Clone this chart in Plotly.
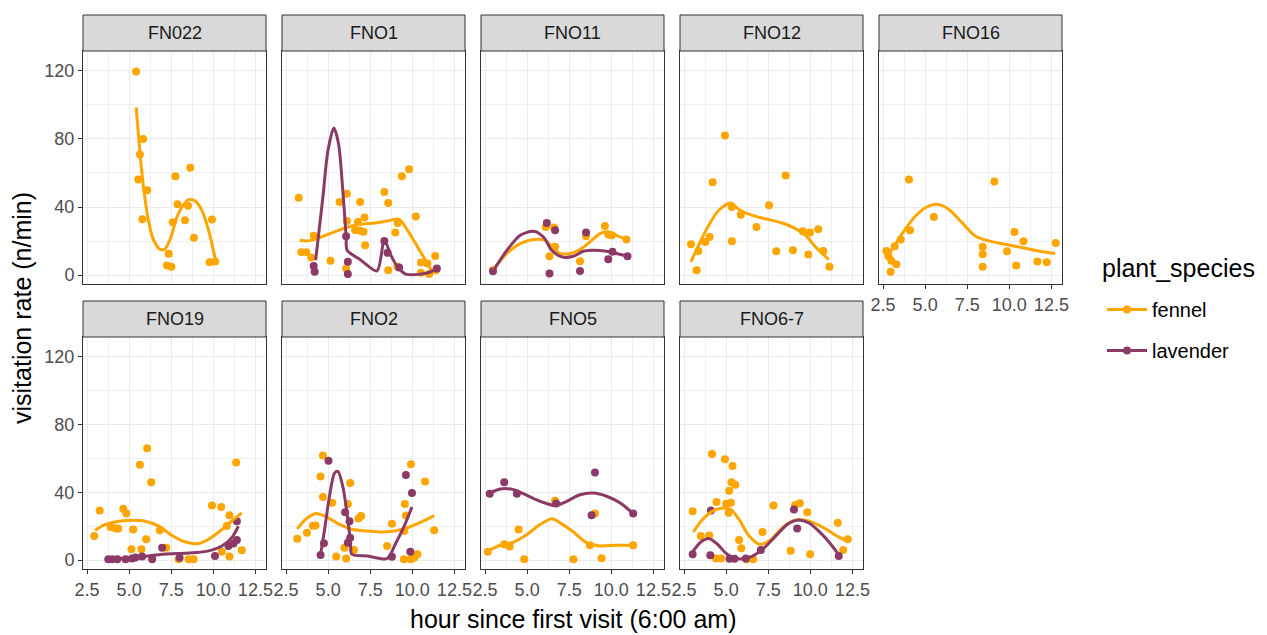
import plotly.graph_objects as go

# ---------------- data ----------------
panel_names = ["FN022", "FNO1", "FNO11", "FNO12", "FNO16", "FNO19", "FNO2", "FNO5", "FNO6-7"]
species = ["fennel", "lavender"]
x_tick_vals = [2.5, 5.0, 7.5, 10.0, 12.5]
x_tick_text = ["2.5", "5.0", "7.5", "10.0", "12.5"]
y_tick_vals = [0, 40, 80, 120]
y_tick_text = ["0", "40", "80", "120"]

# FN022
fn022_fennel_px = [5.42, 5.83, 5.64, 5.54, 6.07, 5.79, 8.63, 7.75, 7.88, 8.50, 8.32, 7.59, 9.92, 8.85, 7.35, 7.25, 7.51, 9.78, 10.11]
fn022_fennel_py = [119.6, 80, 70.8, 56.2, 49.8, 32.8, 63, 58.1, 41.6, 40.8, 32.2, 31, 32.6, 21.9, 12.5, 5.7, 4.9, 7.6, 8.0]
fn022_fennel_sx = [5.42, 5.68, 5.87, 6.17, 6.46, 6.86, 7.15, 7.45, 7.84, 8.14, 8.53, 8.93, 9.32, 9.72, 10.11]
fn022_fennel_sy = [98.5, 67.9, 50.3, 30.8, 20.5, 15, 15.6, 21.5, 34.1, 40, 44.3, 43.5, 38, 26.3, 9.8]

# FNO1
fno1_fennel_px = [3.25, 5.68, 6.11, 6.90, 8.34, 8.57, 9.38, 9.81, 10.21, 7.16, 6.11, 6.77, 6.60, 6.90, 7.10, 9.13, 8.99, 7.20, 4.14, 3.41, 3.70, 4.00, 5.14, 6.07, 8.57, 9.12, 10.51, 10.90, 11.36, 10.51, 11.00, 11.40]
fno1_fennel_py = [45.5, 42.9, 47.8, 42.9, 48.8, 42.3, 58, 62.2, 34.5, 33.8, 31.8, 31.2, 26.5, 26, 25.5, 30.6, 25, 17.6, 23.2, 13.5, 13.5, 10.3, 8.4, 3.9, 2.9, 4.9, 7.4, 6.8, 11.3, 1.4, 0.6, 2.9]
fno1_fennel_sx = [3.31, 3.80, 4.59, 5.38, 6.17, 6.95, 7.75, 8.53, 9.22, 9.72, 10.31, 10.90, 11.20]
fno1_fennel_sy = [20.5, 20.1, 22.4, 25.4, 28.3, 29.9, 30.6, 31.8, 32.8, 26.3, 16.6, 6.8, 1.4]
fno1_lavender_px = [4.14, 4.20, 6.07, 6.17, 6.17, 8.34, 8.53, 9.22, 11.46]
fno1_lavender_py = [5.3, 2.0, 22.8, 7.8, 0.6, 20.1, 13.1, 4.5, 3.9]
fno1_lavender_sx = [4.26, 4.69, 4.99, 5.34, 5.62, 5.87, 6.07, 6.13, 6.95, 7.90, 8.34, 8.73, 9.12, 9.61, 10.51, 11.10, 11.46]
fno1_lavender_sy = [8.8, 45.9, 73.2, 86.4, 77, 49.8, 22.4, 14.6, 8.8, 2.5, 20.5, 11.7, 4.9, 0.6, 0.6, 2.0, 3.9]

# FNO11
fno11_fennel_px = [2.97, 6.11, 6.60, 6.33, 8.14, 8.50, 9.62, 9.82, 10.02, 10.90, 6.66]
fno11_fennel_py = [2.9, 28.3, 27.9, 11.1, 8.2, 22.8, 28.9, 23.8, 23.4, 20.9, 16.6]
fno11_fennel_sx = [2.97, 3.80, 4.59, 5.38, 6.07, 6.46, 6.96, 7.55, 8.14, 8.73, 9.32, 9.82, 10.31, 10.90]
fno11_fennel_sy = [2.9, 12.7, 18.5, 20.9, 20.5, 16.6, 12.7, 12.7, 15, 19.5, 24.4, 25.4, 23.4, 20.9]
fno11_lavender_px = [2.97, 6.17, 6.66, 6.33, 8.14, 8.50, 10.07, 9.82, 10.96]
fno11_lavender_py = [2.3, 30.6, 26.3, 1.0, 2.5, 25, 13.7, 9.4, 11.1]
fno11_lavender_sx = [2.97, 3.80, 4.59, 5.38, 5.97, 6.46, 7.06, 7.75, 8.34, 8.93, 9.72, 10.31, 10.96]
fno11_lavender_sy = [2.3, 14.6, 23.4, 25.8, 22.4, 14.6, 10.7, 11.1, 14, 14.6, 14, 12.7, 11.1]

# FNO12
fno12_fennel_px = [4.93, 4.20, 8.54, 7.55, 5.34, 5.87, 6.80, 2.91, 3.35, 3.76, 4.02, 5.34, 7.98, 8.97, 9.56, 9.98, 10.47, 9.88, 10.77, 11.14, 3.25]
fno12_fennel_py = [82, 54.6, 58.5, 41, 40, 35.5, 28.3, 18.1, 14.2, 19.5, 22.4, 19.9, 14, 14.6, 25.8, 25, 26.9, 12.1, 14.2, 4.9, 2.9]
fno12_fennel_sx = [2.91, 3.41, 4.00, 4.59, 5.28, 5.78, 6.56, 7.55, 8.34, 9.12, 9.72, 10.31, 11.10]
fno12_fennel_sy = [7.8, 18.5, 29.9, 38.4, 42.3, 38.4, 35.1, 32.6, 30.6, 27.3, 23.4, 16.6, 9.2]

# FNO16
fno16_fennel_px = [4.04, 9.11, 5.52, 4.10, 3.55, 3.19, 2.70, 2.82, 2.99, 3.29, 2.95, 8.42, 8.42, 8.42, 9.86, 10.31, 10.84, 10.41, 11.67, 12.22, 12.76]
fno16_fennel_py = [56.2, 55, 34.1, 26.3, 20.9, 17, 14.2, 11.1, 8.4, 6.4, 2, 16.6, 12.3, 4.9, 14, 25.4, 19.9, 5.7, 8, 7.6, 18.9]
fno16_fennel_sx = [2.70, 3.25, 3.84, 4.43, 5.02, 5.71, 6.41, 7.19, 7.98, 8.77, 9.76, 10.74, 11.73, 12.72]
fno16_fennel_sy = [9.8, 18.5, 27.3, 34.7, 39.6, 41.6, 38.6, 30.8, 23, 20.1, 18.1, 16.2, 14.2, 12.7]

# FNO19
fno19_fennel_px = [6.07, 5.64, 11.36, 6.31, 3.25, 4.65, 4.83, 9.92, 10.47, 10.96, 10.80, 2.93, 3.90, 4.20, 4.35, 5.24, 6.82, 6.01, 5.14, 5.73, 7.21, 7.94, 8.53, 8.83, 10.51, 10.96, 11.69]
fno19_fennel_py = [66, 56.2, 57.6, 45.9, 29.3, 30.4, 27.5, 32.2, 31.4, 26.5, 20.1, 14.2, 19.5, 18.7, 18.7, 18.1, 17.6, 12.3, 6.4, 6.4, 7.4, 0.6, 0.6, 0.6, 4.9, 2.1, 5.9]
fno19_fennel_sx = [2.97, 3.60, 4.39, 5.18, 5.97, 6.76, 7.55, 8.34, 9.13, 9.72, 10.51, 11.20, 11.69]
fno19_fennel_sy = [17.6, 21.1, 23, 23.6, 23, 20.1, 14.6, 10.7, 9.8, 12.3, 18.1, 24, 27.9]
fno19_lavender_px = [3.76, 4.00, 4.30, 4.79, 5.18, 5.38, 5.77, 6.37, 6.96, 11.40, 11.40, 10.90, 11.20, 10.10, 8.00]
fno19_lavender_py = [0.6, 0.6, 0.6, 0.6, 1, 1.6, 2.1, 0.6, 7.4, 11.9, 23, 8.4, 9.8, 2.5, 1.5]
fno19_lavender_sx = [3.76, 4.59, 5.38, 6.17, 6.96, 7.94, 8.93, 9.72, 10.51, 11.10, 11.49]
fno19_lavender_sy = [0.6, 1, 1.6, 2.5, 3.5, 3.9, 4.5, 5.5, 8.4, 13.3, 20]

# FNO2
fno2_fennel_px = [4.69, 4.55, 6.31, 5.24, 4.69, 6.17, 9.92, 10.76, 9.56, 9.62, 6.96, 6.80, 8.79, 9.52, 11.30, 3.17, 3.74, 4.10, 4.25, 8.50, 5.97, 6.53, 5.48, 6.07, 9.50, 9.90, 10.10, 10.30]
fno2_fennel_py = [61.7, 49.4, 45.5, 33.8, 37.3, 33.2, 56.6, 46.4, 33.2, 26.3, 26, 24.6, 21.5, 17.2, 17.6, 12.7, 16.2, 20.3, 20.5, 8.4, 7.4, 6, 2.1, 1, 0.6, 0.6, 1.5, 3.5]
fno2_fennel_sx = [3.17, 3.70, 4.30, 4.89, 5.68, 6.46, 7.35, 8.14, 8.93, 9.72, 10.51, 11.30]
fno2_fennel_sy = [18.5, 24.4, 27.5, 25.6, 21.1, 18.1, 17.2, 16.6, 17.2, 19.1, 22.4, 26.3]
fno2_lavender_px = [5.02, 9.62, 9.98, 6.01, 6.27, 6.31, 6.17, 4.75, 4.55, 8.79, 9.88]
fno2_lavender_py = [58.7, 50.3, 39.6, 28.3, 23, 13.3, 10.3, 10, 3.1, 2, 4.9]
fno2_lavender_sx = [4.55, 4.79, 5.08, 5.38, 5.58, 5.87, 6.17, 6.33, 6.41, 7.35, 8.50, 9.03, 9.52, 9.98]
fno2_lavender_sy = [3.1, 18.1, 37.7, 51.3, 52.3, 43.5, 24, 10.3, 3.5, 2.5, 1.0, 10.3, 20.1, 31.4]

# FNO5
fno5_fennel_px = [2.66, 3.64, 3.96, 4.49, 4.83, 6.66, 7.75, 9.03, 8.73, 9.42, 11.30]
fno5_fennel_py = [4.9, 9.4, 8, 18.1, 0.6, 35.1, 0.6, 27.5, 8.8, 1.2, 8.8]
fno5_fennel_sx = [2.66, 3.41, 4.20, 4.99, 5.78, 6.47, 6.96, 7.75, 8.53, 9.32, 10.31, 11.30]
fno5_fennel_sy = [5.5, 8.8, 10.7, 15.2, 21.1, 24.4, 22, 16.6, 10.3, 8.4, 8.8, 8.8]
fno5_lavender_px = [2.78, 3.64, 4.39, 6.72, 9.03, 8.83, 11.30]
fno5_lavender_py = [39.2, 45.9, 39.2, 33.4, 51.7, 26.5, 27.5]
fno5_lavender_sx = [2.78, 3.41, 4.20, 4.99, 5.78, 6.66, 7.35, 8.14, 8.93, 9.72, 10.51, 11.30]
fno5_lavender_sy = [39.6, 42, 41.6, 38.2, 34.7, 32.2, 34.7, 38.6, 39.6, 37.7, 33.8, 27.5]

# FNO6-7
fno67_fennel_px = [4.16, 4.93, 5.38, 5.32, 5.54, 5.18, 4.43, 5.00, 5.28, 5.14, 3.01, 7.81, 9.10, 9.38, 9.82, 11.63, 7.16, 3.50, 4.00, 5.77, 5.90, 12.22, 11.95, 8.83, 9.99, 4.40, 4.70, 6.20, 6.60]
fno67_fennel_py = [62.6, 59.5, 55.6, 45.9, 44.5, 41, 34.3, 33.3, 33.8, 27.9, 28.9, 32.2, 32.5, 33.6, 28.3, 22, 16.6, 14.2, 14.6, 11.9, 7, 12.3, 6, 5.5, 3.5, 1, 1, 0.6, 0.6]
fno67_fennel_sx = [3.05, 3.60, 4.20, 4.79, 5.28, 5.77, 6.37, 6.96, 7.55, 8.14, 8.73, 9.32, 10.10, 10.90, 11.59, 12.18]
fno67_fennel_sy = [16.6, 24, 28.9, 30.8, 29.9, 24, 14.2, 9.4, 11.3, 17.2, 22, 24, 22.4, 18.5, 14.2, 11.3]
fno67_lavender_px = [4.10, 9.03, 9.22, 3.01, 4.06, 5.20, 5.50, 6.17, 7.06, 11.69]
fno67_lavender_py = [29.3, 29.9, 18.7, 3.5, 2.9, 0.8, 0.8, 1, 6, 2.5]
fno67_lavender_sx = [3.01, 3.50, 4.00, 4.49, 4.99, 5.58, 6.37, 7.16, 7.94, 8.63, 9.22, 9.91, 10.70, 11.30, 11.75]
fno67_lavender_sy = [4.9, 10.7, 12.7, 9.4, 4.1, 1, 1.6, 6.4, 14.2, 21.1, 23.6, 22, 15.2, 8.4, 2.5]

# ---------------- assemble ----------------
panel_series = [
    {"fennel": (fn022_fennel_px, fn022_fennel_py, fn022_fennel_sx, fn022_fennel_sy)},
    {"fennel": (fno1_fennel_px, fno1_fennel_py, fno1_fennel_sx, fno1_fennel_sy),
     "lavender": (fno1_lavender_px, fno1_lavender_py, fno1_lavender_sx, fno1_lavender_sy)},
    {"fennel": (fno11_fennel_px, fno11_fennel_py, fno11_fennel_sx, fno11_fennel_sy),
     "lavender": (fno11_lavender_px, fno11_lavender_py, fno11_lavender_sx, fno11_lavender_sy)},
    {"fennel": (fno12_fennel_px, fno12_fennel_py, fno12_fennel_sx, fno12_fennel_sy)},
    {"fennel": (fno16_fennel_px, fno16_fennel_py, fno16_fennel_sx, fno16_fennel_sy)},
    {"fennel": (fno19_fennel_px, fno19_fennel_py, fno19_fennel_sx, fno19_fennel_sy),
     "lavender": (fno19_lavender_px, fno19_lavender_py, fno19_lavender_sx, fno19_lavender_sy)},
    {"fennel": (fno2_fennel_px, fno2_fennel_py, fno2_fennel_sx, fno2_fennel_sy),
     "lavender": (fno2_lavender_px, fno2_lavender_py, fno2_lavender_sx, fno2_lavender_sy)},
    {"fennel": (fno5_fennel_px, fno5_fennel_py, fno5_fennel_sx, fno5_fennel_sy),
     "lavender": (fno5_lavender_px, fno5_lavender_py, fno5_lavender_sx, fno5_lavender_sy)},
    {"fennel": (fno67_fennel_px, fno67_fennel_py, fno67_fennel_sx, fno67_fennel_sy),
     "lavender": (fno67_lavender_px, fno67_lavender_py, fno67_lavender_sx, fno67_lavender_sy)},
]

COLORS = {"fennel": "#FFA500", "lavender": "#8B3A66"}
FONT = "Liberation Sans, Arial, sans-serif"
W, H = 1267, 635
PANEL_W = 183
PANEL_LEFTS = [83 + 199 * c for c in range(5)]
ROW_PANEL = [(51, 284), (337, 569)]   # top, bottom pixel of plotting area
ROW_STRIP = [(15, 51), (301, 337)]
X_RANGE = [2.26, 13.13]
Y_RANGE = [-5.2, 131.6]
TICK_FONT = dict(family=FONT, size=18, color="#4D4D4D")

fig = go.Figure()
layout_axes = {}
shapes = []
annotations = []

for k, name in enumerate(panel_names):
    row, col = divmod(k, 5)
    sfx = "" if k == 0 else str(k + 1)
    xa, ya = "x" + sfx, "y" + sfx
    left = PANEL_LEFTS[col]
    top, bot = ROW_PANEL[row]
    xdom = [left / W, (left + PANEL_W) / W]
    ydom = [1 - bot / H, 1 - top / H]
    show_x = (row == 1) or (k == 4)
    show_y = (col == 0)
    layout_axes["xaxis" + sfx] = dict(
        domain=xdom, anchor=ya, range=X_RANGE, showgrid=True, gridcolor="#EBEBEB", gridwidth=1.3,
        tickvals=x_tick_vals, ticktext=x_tick_text, showticklabels=show_x,
        ticks="outside" if show_x else "", ticklen=4, tickcolor="#333333", tickwidth=1,
        tickfont=TICK_FONT, automargin=False,
        minor=dict(tickvals=[3.75, 6.25, 8.75, 11.25], showgrid=True, gridcolor="#EFEFEF", gridwidth=0.7, ticks=""),
        showline=True, mirror=True, linecolor="#333333", linewidth=1, zeroline=False, fixedrange=True,
    )
    layout_axes["yaxis" + sfx] = dict(
        domain=ydom, anchor=xa, range=Y_RANGE, showgrid=True, gridcolor="#EBEBEB", gridwidth=1.3,
        tickvals=y_tick_vals, ticktext=y_tick_text, showticklabels=show_y,
        ticks="outside" if show_y else "", ticklen=4, tickcolor="#333333", tickwidth=1,
        tickfont=TICK_FONT, automargin=False,
        minor=dict(tickvals=[20, 60, 100], showgrid=True, gridcolor="#EFEFEF", gridwidth=0.7, ticks=""),
        showline=True, mirror=True, linecolor="#333333", linewidth=1, zeroline=False, fixedrange=True,
    )
    # strip
    s_top, s_bot = ROW_STRIP[row]
    shapes.append(dict(type="rect", xref="paper", yref="paper",
                       x0=xdom[0], x1=xdom[1], y0=1 - s_bot / H, y1=1 - s_top / H,
                       fillcolor="#D9D9D9", line=dict(color="#333333", width=1), layer="above"))
    annotations.append(dict(text=name, xref="paper", yref="paper",
                            x=(xdom[0] + xdom[1]) / 2, y=1 - (s_top + s_bot) / 2 / H,
                            showarrow=False, xanchor="center", yanchor="middle",
                            font=dict(family=FONT, size=18, color="#1A1A1A")))
    series = panel_series[k]
    for sp in species:
        if sp in series:
            px, py, _, _ = series[sp]
            fig.add_trace(go.Scatter(x=px, y=py, xaxis=xa, yaxis=ya, mode="markers",
                                     marker=dict(color=COLORS[sp], size=8, line=dict(width=0)),
                                     showlegend=False, hoverinfo="skip"))
    for sp in species:
        if sp in series:
            _, _, sx, sy = series[sp]
            fig.add_trace(go.Scatter(x=sx, y=sy, xaxis=xa, yaxis=ya, mode="lines",
                                     line=dict(color=COLORS[sp], width=3, shape="spline", smoothing=0.8),
                                     showlegend=False, hoverinfo="skip"))

# legend entries
for sp in species:
    fig.add_trace(go.Scatter(x=[None], y=[None], mode="lines+markers", name=sp, legendgroup=sp,
                             line=dict(color=COLORS[sp], width=3),
                             marker=dict(color=COLORS[sp], size=8)))

# axis titles and legend title
annotations.append(dict(text="visitation rate (n/min)", xref="paper", yref="paper",
                        x=22 / W, y=1 - 308 / H, showarrow=False, textangle=-90,
                        xanchor="center", yanchor="middle",
                        font=dict(family=FONT, size=25, color="#000000")))
annotations.append(dict(text="hour since first visit (6:00 am)", xref="paper", yref="paper",
                        x=573 / W, y=1 - 619 / H, showarrow=False,
                        xanchor="center", yanchor="middle",
                        font=dict(family=FONT, size=25, color="#000000")))
annotations.append(dict(text="plant_species", xref="paper", yref="paper",
                        x=1100 / W, y=1 - 268 / H, showarrow=False,
                        xanchor="left", yanchor="middle",
                        font=dict(family=FONT, size=25, color="#000000")))

fig.update_layout(
    template="none",
    width=W, height=H, margin=dict(l=0, r=0, t=0, b=0, autoexpand=False),
    paper_bgcolor="white", plot_bgcolor="white",
    shapes=shapes, annotations=annotations,
    legend=dict(x=1102 / W, y=1 - 290 / H, xanchor="left", yanchor="top",
                font=dict(family=FONT, size=20, color="#000000"),
                tracegroupgap=12, itemwidth=40, bgcolor="rgba(0,0,0,0)", borderwidth=0),
    **layout_axes,
)

fig.write_html("out.html", config={"displayModeBar": False},
               post_script="document.body.style.margin='0';document.body.style.overflow='hidden';")
